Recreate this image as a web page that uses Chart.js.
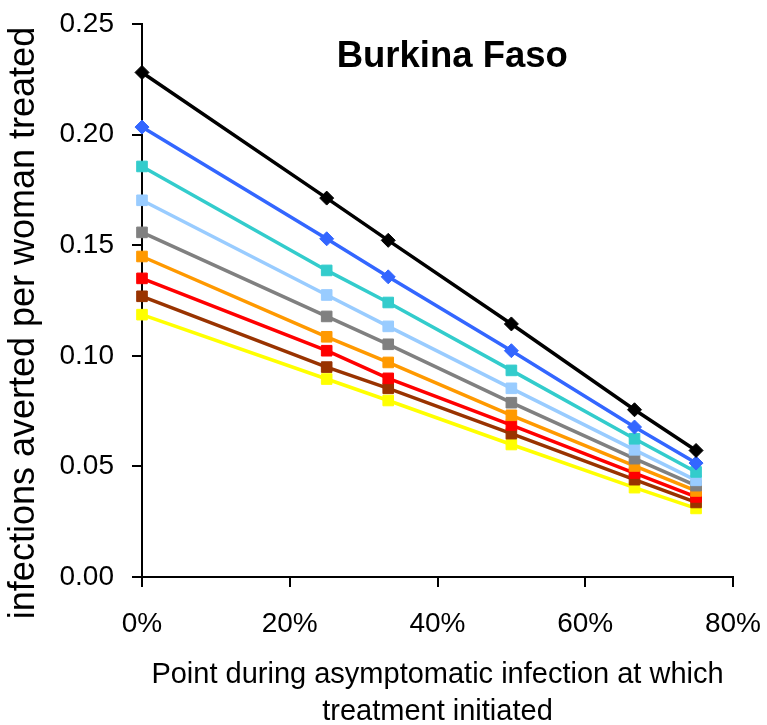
<!DOCTYPE html>
<html>
<head>
<meta charset="utf-8">
<script src="https://cdn.jsdelivr.net/npm/chart.js@4.4.1/dist/chart.umd.min.js"></script>
<style>
  html, body { margin: 0; padding: 0; background: #fff; }
  #wrap { width: 767px; height: 725px; }
</style>
</head>
<body>
<div id="wrap"><canvas id="chart" width="767" height="725"></canvas></div>
<script>
// treatment start point, as a fraction of the asymptomatic period
const startPoints = [0, 0.25, 0.3333, 0.5, 0.6667, 0.75];

// infections averted per woman treated, one array per scenario
const seriesBlack     = [0.2281, 0.1713, 0.1522, 0.1144, 0.0756, 0.0572];
const seriesBlue      = [0.2034, 0.1529, 0.1357, 0.1023, 0.0678, 0.0515];
const seriesTeal      = [0.1856, 0.1386, 0.1241, 0.0934, 0.0625, 0.0475];
const seriesLightBlue = [0.1703, 0.1275, 0.1133, 0.0853, 0.0575, 0.0437];
const seriesGray      = [0.1558, 0.1178, 0.1052, 0.0788, 0.0535, 0.0413];
const seriesOrange    = [0.1449, 0.1086, 0.0970, 0.0731, 0.0502, 0.0389];
const seriesRed       = [0.1350, 0.1023, 0.0898, 0.0687, 0.0470, 0.0362];
const seriesBrown     = [0.1269, 0.0949, 0.0853, 0.0648, 0.0440, 0.0337];
const seriesYellow    = [0.1186, 0.0895, 0.0798, 0.0599, 0.0404, 0.0310];

const yTicks = [0, 0.05, 0.10, 0.15, 0.20, 0.25];
const xTicks = [0, 0.2, 0.4, 0.6, 0.8];

const chartTitle = 'Burkina Faso';
const yTitle = 'infections averted per woman treated';
const xTitle = ['Point during asymptomatic infection at which', 'treatment initiated'];

const FONT = '"Liberation Sans", Arial, Helvetica, sans-serif';

function makeSet(values, color, style) {
  const diamond = style === 'rectRot';
  return {
    data: values.map((v, i) => ({ x: startPoints[i], y: v })),
    borderColor: color,
    backgroundColor: color,
    borderWidth: 3.5,
    pointStyle: style,
    pointRadius: diamond ? 7 : 7.5,
    pointBorderWidth: 1,
    pointBorderColor: color,
    pointBackgroundColor: color,
    showLine: true,
    tension: 0,
    clip: false
  };
}

// title inside the plot + rotated y title
const textPlugin = {
  id: 'texts',
  afterDraw(chart) {
    const ctx = chart.ctx;
    const xs = chart.scales.x;
    const ys = chart.scales.y;
    ctx.save();
    ctx.fillStyle = '#000';
    ctx.textAlign = 'center';
    ctx.textBaseline = 'middle';
    ctx.font = 'bold 36.5px ' + FONT;
    ctx.fillText(chartTitle, xs.getPixelForValue(0.42), ys.getPixelForValue(0.2352));

    ctx.translate(24, 323);
    ctx.rotate(-Math.PI / 2);
    ctx.font = '36px ' + FONT;
    ctx.fillText(yTitle, 0, 0);
    ctx.restore();
  }
};

new Chart(document.getElementById('chart'), {
  type: 'scatter',
  data: {
    datasets: [
      makeSet(seriesBlack, '#000000', 'rectRot'),
      makeSet(seriesBlue, '#3366FF', 'rectRot'),
      makeSet(seriesTeal, '#33CCCC', 'rect'),
      makeSet(seriesLightBlue, '#99CCFF', 'rect'),
      makeSet(seriesGray, '#808080', 'rect'),
      makeSet(seriesOrange, '#FF9900', 'rect'),
      makeSet(seriesRed, '#FF0000', 'rect'),
      makeSet(seriesBrown, '#993300', 'rect'),
      makeSet(seriesYellow, '#FFFF00', 'rect')
    ]
  },
  options: {
    responsive: false,
    animation: false,
    layout: { padding: { top: 24, right: 34, left: 0, bottom: 0 } },
    plugins: {
      legend: { display: false },
      tooltip: { enabled: false }
    },
    scales: {
      x: {
        type: 'linear',
        min: 0,
        max: 0.8,
        afterFit(scale) {
          scale.height = 148;
          scale.paddingLeft = 0;
          scale.paddingRight = 0;
        },
        afterBuildTicks(scale) { scale.ticks = xTicks.map(v => ({ value: v })); },
        ticks: {
          color: '#000',
          padding: 20,
          maxRotation: 0,
          font: { family: FONT, size: 28 },
          callback: v => Math.round(v * 100) + '%'
        },
        grid: { drawOnChartArea: false, drawTicks: true, tickLength: 10, color: '#000', lineWidth: 2 },
        border: { color: '#000', width: 2 },
        title: {
          display: true,
          text: xTitle,
          color: '#000',
          font: { family: FONT, size: 29, lineHeight: 1.28 },
          padding: { top: 0, bottom: -6 }
        }
      },
      y: {
        min: 0,
        max: 0.25,
        afterFit(scale) {
          scale.width = 142;
          scale.paddingTop = 0;
          scale.paddingBottom = 0;
        },
        afterBuildTicks(scale) { scale.ticks = yTicks.map(v => ({ value: v })); },
        ticks: {
          color: '#000',
          padding: 18,
          font: { family: FONT, size: 28 },
          callback: v => v.toFixed(2)
        },
        grid: { drawOnChartArea: false, drawTicks: true, tickLength: 10, color: '#000', lineWidth: 2 },
        border: { color: '#000', width: 2 }
      }
    }
  },
  plugins: [textPlugin]
});
</script>
</body>
</html>
